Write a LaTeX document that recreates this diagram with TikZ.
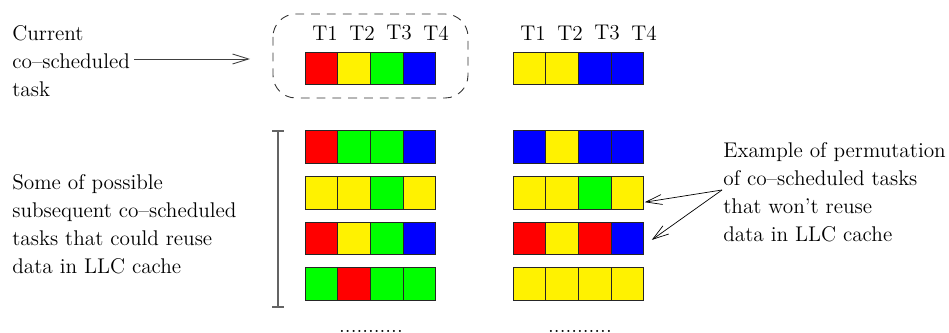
\documentclass[tikz,border=0pt]{standalone}
\usetikzlibrary{arrows.meta,positioning}

\definecolor{cFrame}{RGB}{51,51,51}
\definecolor{cBar}{RGB}{100,100,100}

\begin{document}
\begin{tikzpicture}[
  x=0.2mm, y=-0.2mm,
  font=\fontsize{12.1}{15.9}\selectfont,
  >={Straight Barb[length=3.2mm,width=2mm]},
  cell/.style={
    draw=black!85, line width=0.5pt, inner sep=0pt, outer sep=0pt,
    minimum width=6.54mm, minimum height=6.5mm
  },
  tlbl/.style={anchor=center, inner sep=0pt},
  txt/.style={align=left, anchor=west, inner sep=0pt},
  dots/.style={anchor=base, inner sep=0pt}
]
\useasboundingbox (0,0) rectangle (949,333);

% Current co-scheduled set
\foreach \c [count=\i] in {red,yellow,green,blue}
  \node[cell, fill=\c] (l0-\i) at (321.35+32.7*\i-32.7, 68.5) {};
\foreach \c [count=\i] in {yellow,yellow,blue,blue}
  \node[cell, fill=\c] (r0-\i) at (529.35+32.7*\i-32.7, 68.5) {};

% Task labels
\foreach \i in {1,...,4} {
  \node[tlbl] (lt\i) at (325+37*\i-37, 33) {T\i};
  \node[tlbl] (rt\i) at (533+37*\i-37, 33) {T\i};
}

% Dashed frame round the current set
\draw[cFrame, dashed, dash pattern=on 5pt off 4pt, rounded corners=13, line width=0.5pt]
  (273,14) rectangle (468,98);

% Subsequent sets, left column
\foreach \r/\cl in {1/{red,green,green,blue},
                    2/{yellow,yellow,green,yellow},
                    3/{red,yellow,green,blue},
                    4/{green,red,green,green}}
  \foreach \c [count=\i] in \cl
    \node[cell, fill=\c] (l\r-\i) at (321.35+32.7*\i-32.7, 147+45.7*\r-45.7) {};

% Subsequent sets, right column
\foreach \r/\cl in {1/{blue,yellow,blue,blue},
                    2/{yellow,yellow,green,yellow},
                    3/{red,yellow,red,blue},
                    4/{yellow,yellow,yellow,yellow}}
  \foreach \c [count=\i] in \cl
    \node[cell, fill=\c] (r\r-\i) at (529.35+32.7*\i-32.7, 147+45.7*\r-45.7) {};

% Dots
\node[dots] (ldots) at (371,332.5) {...........};
\node[dots] (rdots) at (580,332.5) {...........};

% Bracket
\coordinate (btop) at (278,131);
\coordinate (bbot) at (278,307);
\draw[cBar, line width=0.8pt] (btop) -- (bbot)
  ([xshift=-3.4pt]btop) -- ([xshift=3.4pt]btop)
  ([xshift=-3.4pt]bbot) -- ([xshift=3.4pt]bbot);

% Texts
\node[txt] (cur) at (12,61.5) {Current\\co--scheduled\\task};
\node[txt] (reuse) at (12,224.5) {Some of possible\\subsequent co--scheduled\\tasks that could reuse\\data in LLC cache};
\node[txt] (perm) at (723,192.5) {Example of permutation\\of co--scheduled tasks\\that won't reuse\\data in LLC cache};

% Arrows
\coordinate (curtail) at (134,59);
\coordinate (curtip) at (250,59);
\draw[->, black!75, line width=0.5pt] (curtail) -- (curtip);
\coordinate (fork) at (722,190);
\draw[->, line width=0.4pt] (fork) -- ([shift={(1,9.5)}]r2-4.east);
\draw[->, line width=0.4pt] (fork) -- ([shift={(8,1.5)}]r3-4.east);
\end{tikzpicture}
\end{document}
